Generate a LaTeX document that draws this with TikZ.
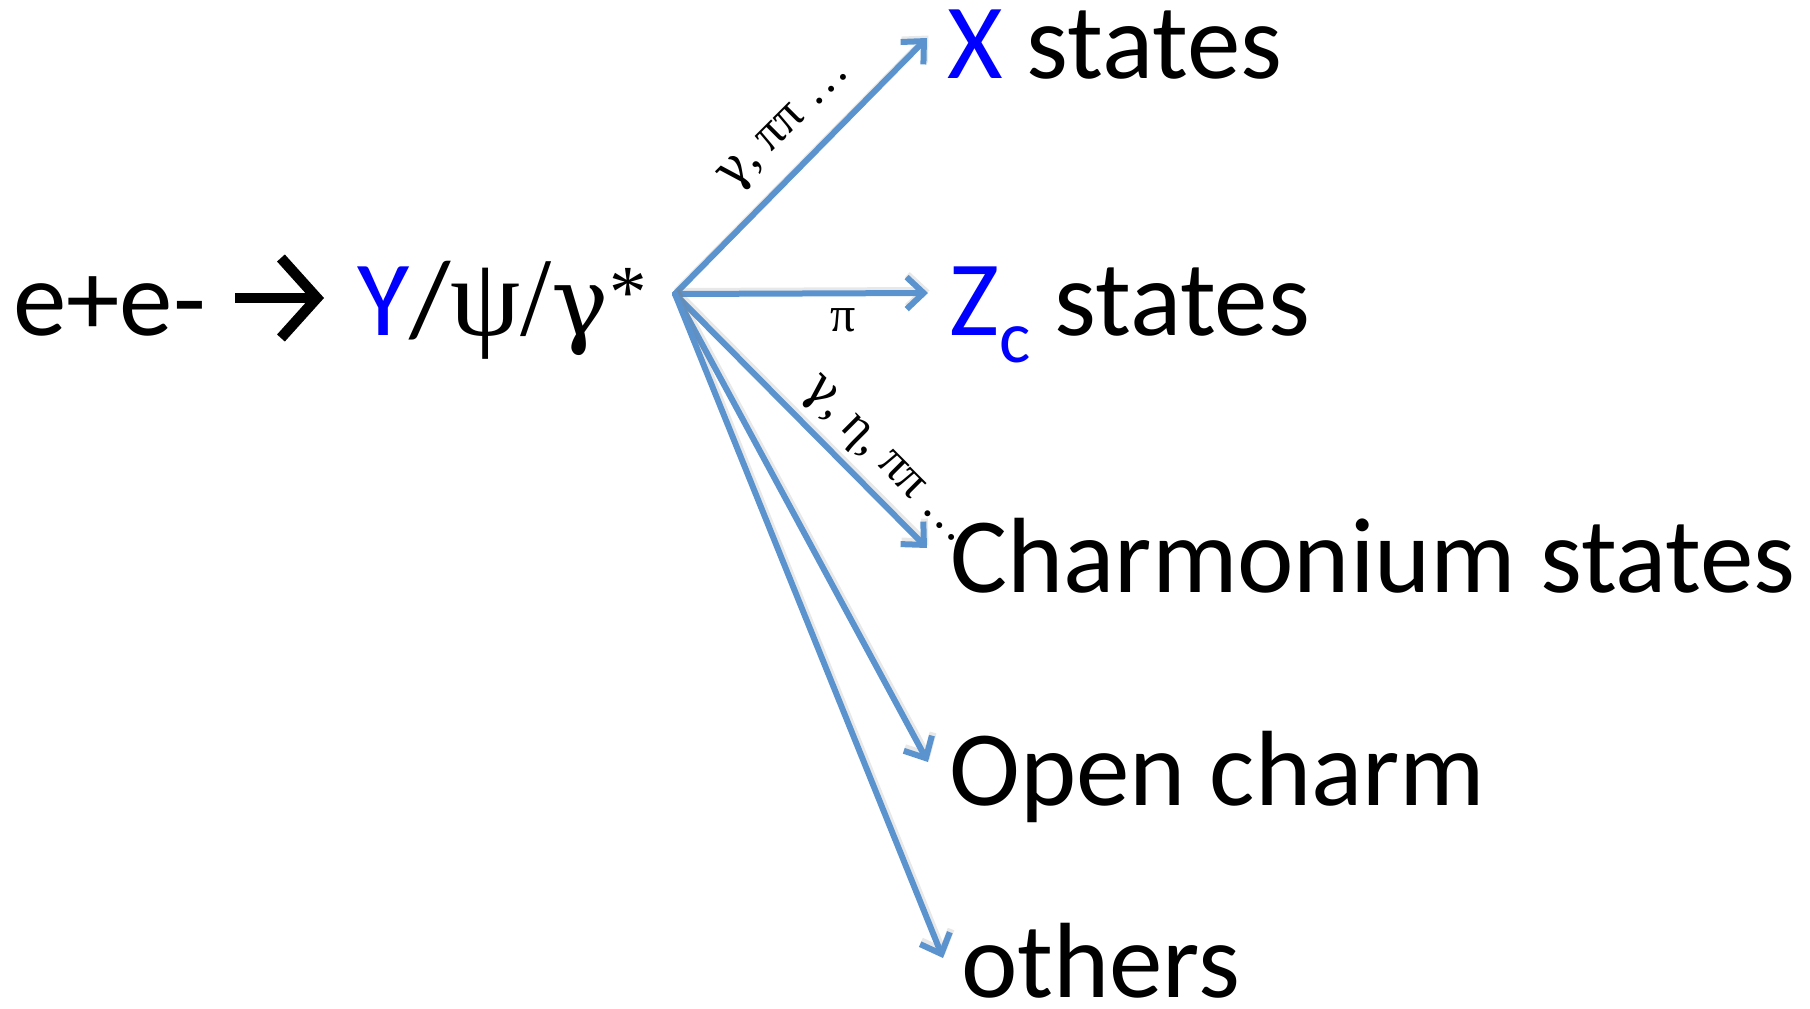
\documentclass[tikz,border=0pt]{standalone}
\usepackage{fontspec}
\setmainfont{Carlito}
\newfontfamily\grk{Liberation Serif}
\newfontfamily\grkb{DejaVu Serif}
\usetikzlibrary{arrows.meta}
\definecolor{arrowblue}{RGB}{91,147,206}
\definecolor{txtblue}{RGB}{0,0,255}
\begin{document}
\begin{tikzpicture}[x=1pt,y=-1pt,
  big/.style={font=\fontsize{107}{110}\selectfont, inner sep=0pt, anchor=base west},
  lbl/.style={font=\grk\fontsize{50}{52}\selectfont, inner sep=0pt},
  branch/.style={draw=arrowblue, line width=6pt, line cap=round,
    -{Straight Barb[length=17pt,width=32pt]},
    preaction={draw=black!50, opacity=0.18, line width=7pt,
      transform canvas={shift={(1.5pt,2.5pt)}}}},
  bigarrow/.style={draw=black, line width=10.5pt,
    -{Straight Barb[length=36pt,width=80pt,sharp]}},
]
\useasboundingbox (0,0) rectangle (1810,1009);

% left text
\node[big] (ee) at (13,335) {e+e-};
\coordinate (a1) at (235,298);
\coordinate (a2) at (324,298);
\draw[bigarrow] (a1) -- (a2);
\node[big] (yp) at (357,335) {{\color{txtblue}Y}/{\grk\fontsize{112}{112}\selectfont ψ/}{\grkb\fontsize{96}{96}\selectfont γ}{\grk\fontsize{75}{75}\selectfont\raisebox{18pt}{*}}};

% right texts
\node[big] (xs) at (947,78) {{\color{txtblue}X} states};
\node[big] (zs) at (949,335) {{\color{txtblue}Z\raisebox{-27pt}{\fontsize{74}{74}\selectfont c}} states};
\node[big] (chs) at (950,592) {Charmonium states};
\node[big] (oc) at (949,805) {Open charm};
\node[big] (ot) at (961,997) {others};

% branches
\coordinate (o) at (675,294);
\coordinate (tx) at (927,38);
\coordinate (tz) at (928,293);
\coordinate (tc) at (927,548);
\coordinate (to) at (928,762);
\coordinate (tt) at (943,958);
\draw[branch] (o) -- (tx);
\draw[branch] (o) -- (tz);
\draw[branch] (o) -- (tc);
\draw[branch] (o) -- (to);
\draw[branch] (o) -- (tt);

% labels
\node[lbl, rotate=45] (lx) at (786,127) {{\grkb γ}, ππ …};
\node[lbl] (lz) at (843,320) {π};
\node[lbl, rotate=-45] (lc) at (884,462) {{\grkb γ}, η, ππ …};
\end{tikzpicture}
\end{document}
